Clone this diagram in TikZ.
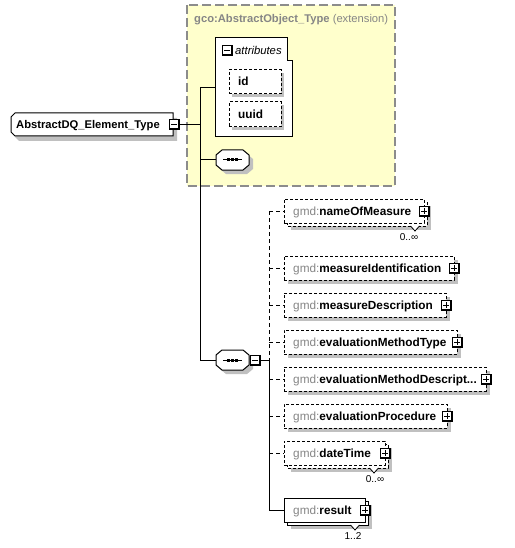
\documentclass[tikz,border=0pt]{standalone}
\usepackage{fontspec}
\setmainfont{Liberation Sans}
\definecolor{ylw}{HTML}{FFFFCC}
\definecolor{shd}{HTML}{C0C0C0}
\definecolor{gtxt}{HTML}{868686}
\definecolor{frm}{HTML}{8C8C8C}
\newcommand\gmdname[1]{{\color{gtxt}gmd:}\textbf{#1}}
\tikzset{
  ln/.style={line width=1pt},
  shad/.style={fill=shd},
  dsh/.style={dash pattern=on 3pt off 2pt},
  sld/.style={},
  ebox/.style={draw=black, fill=white, line width=1pt, rectangle, anchor=north west, inner sep=0pt, outer sep=0pt, minimum height=24pt},
  optbox/.style={ebox, dsh},
  holder/.style={rectangle, inner sep=0pt, outer sep=0pt},
  txt/.style={anchor=base west, inner sep=0pt, font=\fontsize{11.3}{13}\selectfont},
  etxt/.style={anchor=base west, inner sep=0pt, font=\fontsize{11.8}{13}\selectfont},
  occ/.style={inner sep=0pt, font=\fontsize{10}{12}\selectfont},
  conn/.style={line width=1pt},
  optconn/.style={line width=1pt, dash pattern=on 4pt off 3pt},
  plusbox/.pic={
    \fill[black] (-5,-5) rectangle (6,6);
    \fill[white] (-4,-4) rectangle (4,4);
    \draw[line width=1pt] (-3,0) -- (3,0) (0,-3) -- (0,3);
  },
  minusbox/.pic={
    \fill[black] (-5,-5) rectangle (6,6);
    \fill[white] (-4,-4) rectangle (4,4);
    \draw[line width=1pt] (-3,0) -- (3,0);
  },
}
% single optional element: name, top, width, label
\newcommand\optel[4]{%
  \fill[shad] (288,#2+4) rectangle ++(#3,24);
  \node[optbox, minimum width=#3pt] (#1) at (284,#2) {};
  \node[etxt] (#1-t) at (293,#2+16) {\gmdname{#4}};
  \pic at (#1.east) {plusbox};
}
% multiple element: name, top, width, label, style, V x, occ x, occ text
\newcommand\mulel[8]{%
  \fill[shad] (291,#2+7) rectangle ++(#3,24);
  \draw[line width=1pt, fill=white, #5] (287,#2+3) rectangle ++(#3,24);
  \node[ebox, #5, minimum width=#3pt] (#1) at (284,#2) {};
  \fill[white] (#6-4.5,#2+26.6) -- (#6,#2+32) -- (#6+4.5,#2+26.6) -- cycle;
  \draw[line width=0.8pt] (#6-4.5,#2+27) -- (#6,#2+32) -- (#6+4.5,#2+27);
  \node[etxt] (#1-t) at (293,#2+16) {\gmdname{#4}};
  \pic at (#1.east) {plusbox};
  \node[occ] (#1-o) at (#7,#2+38.5) {#8};
}
% sequence compositor: name, centre y
\newcommand\seqel[2]{%
  \fill[shad] (226,#2-6) -- (247,#2-6) -- (253,#2-1) -- (253,#2+9) -- (247,#2+14) -- (226,#2+14) -- (220,#2+9) -- (220,#2-1) -- cycle;
  \draw[ln, fill=white] (222,#2-10) -- (243,#2-10) -- (249,#2-5) -- (249,#2+5) -- (243,#2+10) -- (222,#2+10) -- (216,#2+5) -- (216,#2-5) -- cycle;
  \node[holder, minimum width=33pt, minimum height=20pt] (#1) at (232.5,#2) {};
  \draw[line width=1pt] (223,#2) -- (242,#2);
  \fill (227,#2-1.5) rectangle ++(3,3);
  \fill (231,#2-1.5) rectangle ++(3,3);
  \fill (235,#2-1.5) rectangle ++(3,3);
}
\begin{document}
\begin{tikzpicture}[x=1pt,y=-1pt]
\useasboundingbox (0,0) rectangle (514,548);
% extension frame
\draw[fill=ylw, draw=frm, line width=1.3pt, dash pattern=on 9pt off 4pt] (187,5) rectangle (395,186);
\node[txt, font=\fontsize{11.2}{13}\selectfont, text=gtxt] (ext) at (194,23) {\textbf{gco:AbstractObject\_Type} (extension)};
% root
\fill[shad] (19,118) -- (177,118) -- (177,141) -- (19,141) -- (15,137) -- (15,122) -- cycle;
\draw[ln, fill=white] (15,113) -- (173,113) -- (173,136) -- (15,136) -- (11,132) -- (11,117) -- cycle;
\node[txt, font=\fontsize{11.2}{13}\selectfont] (root) at (16,128.5) {\textbf{AbstractDQ\_Element\_Type}};
\coordinate (rootpm) at (174,124.5);
% attributes
\node[holder, minimum width=77pt, minimum height=99pt, anchor=north west] (attr) at (215,38) {};
\draw[ln, fill=white] (215,38) -- (287,38) -- (287,61) -- (292,61) -- (292,137) -- (215,137) -- cycle;
\pic at (227,50.5) {minusbox};
\node[txt, font=\fontsize{11.3}{13}\selectfont\itshape] (attrt) at (235,54.5) {attributes};
\fill[shad] (232,73) rectangle ++(52,24);
\node[optbox, minimum width=52pt] (id) at (229,70) {};
\node[etxt] (idt) at (238,86) {\textbf{id}};
\fill[shad] (232,105) rectangle ++(52,25);
\node[optbox, minimum width=52pt, minimum height=25pt] (uuid) at (229,102) {};
\node[etxt] (uuidt) at (238,118.5) {\textbf{uuid}};
% sequences
\seqel{seqA}{160}
\seqel{seqB}{360}
\coordinate (sqpm) at (255,360);
% elements
\mulel{nom}{199}{140}{nameOfMeasure}{dsh}{415}{409}{0..∞}
\optel{mi}{256}{170}{measureIdentification}
\optel{md}{293}{162}{measureDescription}
\optel{emt}{330}{173}{evaluationMethodType}
\optel{emd}{367}{202}{evaluationMethodDescript...}
\optel{ep}{404}{163}{evaluationProcedure}
\mulel{dt}{441}{101}{dateTime}{dsh}{374}{375}{0..∞}
\mulel{res}{498}{81}{result}{sld}{355}{353}{1..2}
% connectors
\coordinate (jr) at (200,124.5);
\coordinate (ja) at (jr |- attr.west);
\coordinate (jv) at (269,360);
\draw[conn] ([xshift=6pt]rootpm) -- (jr);
\draw[conn] (ja) -- (jr |- seqB.west);
\draw[conn] (ja) -- (attr.west);
\draw[conn] (jr |- seqA.west) -- (seqA.west);
\draw[conn] (jr |- seqB.west) -- (seqB.west);
\draw[conn] ([xshift=6pt]sqpm) -- (jv);
\draw[optconn] (jv |- nom.west) -- (jv);
\draw[conn] (jv) -- (jv |- res.west);
\foreach \e in {nom,mi,md,emt,emd,ep,dt}{
  \draw[optconn] (jv |- \e.west) -- (\e.west);
}
\draw[conn] (jv |- res.west) -- (res.west);
\pic at (rootpm) {minusbox};
\pic at (sqpm) {minusbox};
\end{tikzpicture}
\end{document}
